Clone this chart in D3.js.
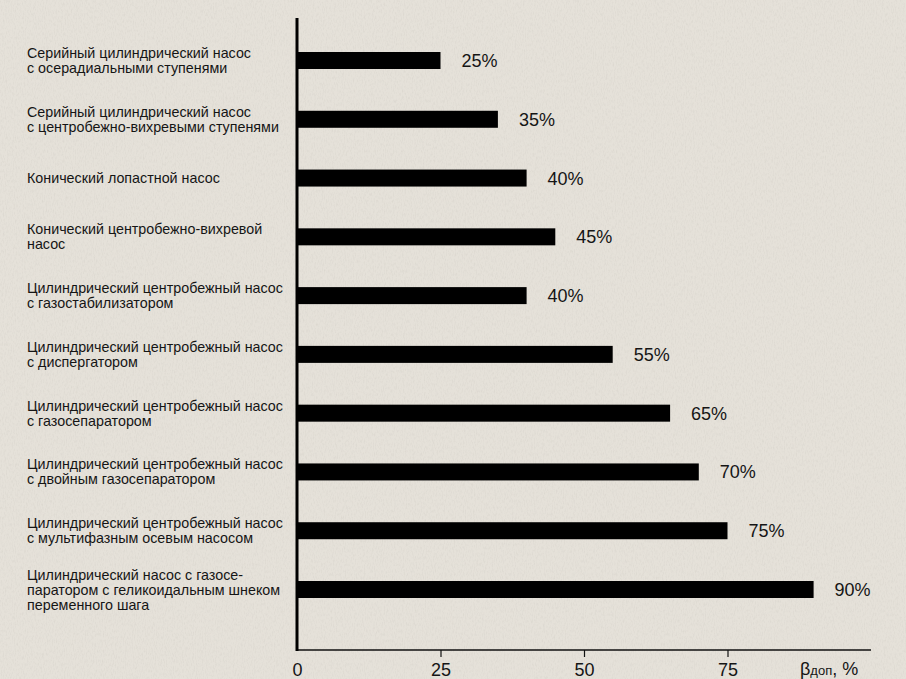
<!DOCTYPE html>
<html>
<head>
<meta charset="utf-8">
<script src="https://cdn.jsdelivr.net/npm/d3@7"></script>
<style>
  html, body { margin: 0; padding: 0; background: #e4e0d8; }
  svg { display: block; }
</style>
</head>
<body>
<svg id="chart" width="906" height="679"></svg>
<script>
// Pump types (each label split into its printed lines)
const categories = [
  ["Серийный цилиндрический насос", "с осерадиальными ступенями"],
  ["Серийный цилиндрический насос", "с центробежно-вихревыми ступенями"],
  ["Конический лопастной насос"],
  ["Конический центробежно-вихревой", "насос"],
  ["Цилиндрический центробежный насос", "с газостабилизатором"],
  ["Цилиндрический центробежный насос", "с диспергатором"],
  ["Цилиндрический центробежный насос", "с газосепаратором"],
  ["Цилиндрический центробежный насос", "с двойным газосепаратором"],
  ["Цилиндрический центробежный насос", "с мультифазным осевым насосом"],
  ["Цилиндрический насос с газосе-", "паратором с геликоидальным шнеком", "переменного шага"]
];
// Permissible free-gas content at pump intake, %
const values = [25, 35, 40, 45, 40, 55, 65, 70, 75, 90];
const xTicks = [0, 25, 50, 75];

const svg = d3.select("#chart");
const W = 906, H = 679;

// paper-like background texture
const defs = svg.append("defs");
const f = defs.append("filter").attr("id", "paper").attr("x", 0).attr("y", 0).attr("width", "100%").attr("height", "100%");
f.append("feTurbulence").attr("type", "fractalNoise").attr("baseFrequency", "0.9 0.3").attr("numOctaves", 3).attr("seed", 4).attr("result", "noise");
f.append("feColorMatrix").attr("in", "noise").attr("type", "matrix")
  .attr("values", "0 0 0 0 0.62  0 0 0 0 0.59  0 0 0 0 0.54  0 0 0 -1.1 0.62").attr("result", "tint");
f.append("feComposite").attr("in", "tint").attr("in2", "SourceGraphic").attr("operator", "in");

svg.append("rect").attr("width", W).attr("height", H).attr("fill", "#e5e1d9");
svg.append("rect").attr("width", W).attr("height", H).attr("fill", "#e5e1d9").attr("filter", "url(#paper)").attr("opacity", 0.7);

const x0 = 297, axisY = 650;
const x = d3.scaleLinear().domain([0, 100]).range([x0, 871]);
const y = d3.scaleBand().domain(d3.range(categories.length)).range([52, 598])
  .paddingInner(0.7108).paddingOuter(0);

const textColor = "#151515";
const font = "'Liberation Sans', Arial, sans-serif";

// bars
svg.append("g").selectAll("rect").data(values).join("rect")
  .attr("x", x(0))
  .attr("y", (d, i) => y(i))
  .attr("width", d => x(d) - x(0))
  .attr("height", y.bandwidth())
  .attr("fill", "#000");

// value labels
svg.append("g").selectAll("text").data(values).join("text")
  .attr("x", d => x(d) + 21)
  .attr("y", (d, i) => y(i) + y.bandwidth() / 2 + 6.5)
  .attr("font-family", font).attr("font-size", 18).attr("fill", textColor)
  .text(d => d + "%");

// category labels
const lineH = 15;
const lab = svg.append("g").selectAll("text").data(categories).join("text")
  .attr("font-family", font).attr("font-size", 14.3).attr("fill", textColor)
  .attr("y", (d, i) => y(i) + y.bandwidth() / 2 + 5 - (d.length - 1) * lineH / 2);
lab.selectAll("tspan").data(d => d).join("tspan")
  .attr("x", 27)
  .attr("dy", (d, j) => j === 0 ? 0 : lineH)
  .text(d => d);

// x axis
const xAxis = d3.axisBottom(x).tickValues(xTicks).tickSize(7).tickPadding(6);
const gx = svg.append("g").attr("transform", `translate(0,${axisY})`).call(xAxis);
gx.select(".domain").attr("d", `M${x0},0H${x(100)}`).attr("stroke", "#111").attr("stroke-width", 1.6);
gx.selectAll(".tick line").attr("stroke", "#111").attr("stroke-width", 1.2);
gx.selectAll(".tick text").attr("font-family", font).attr("font-size", 18).attr("fill", textColor);
gx.selectAll(".tick").filter(d => d === 0).select("line").remove();

// y axis line
svg.append("line").attr("x1", x0).attr("x2", x0).attr("y1", 18).attr("y2", axisY + 1)
  .attr("stroke", "#000").attr("stroke-width", 3);

// axis title
const t = svg.append("text").attr("x", 800).attr("y", 675)
  .attr("font-family", font).attr("font-size", 18).attr("fill", textColor);
t.append("tspan").text("β");
t.append("tspan").attr("font-size", 13).text("доп");
t.append("tspan").text(", %");
</script>
</body>
</html>
